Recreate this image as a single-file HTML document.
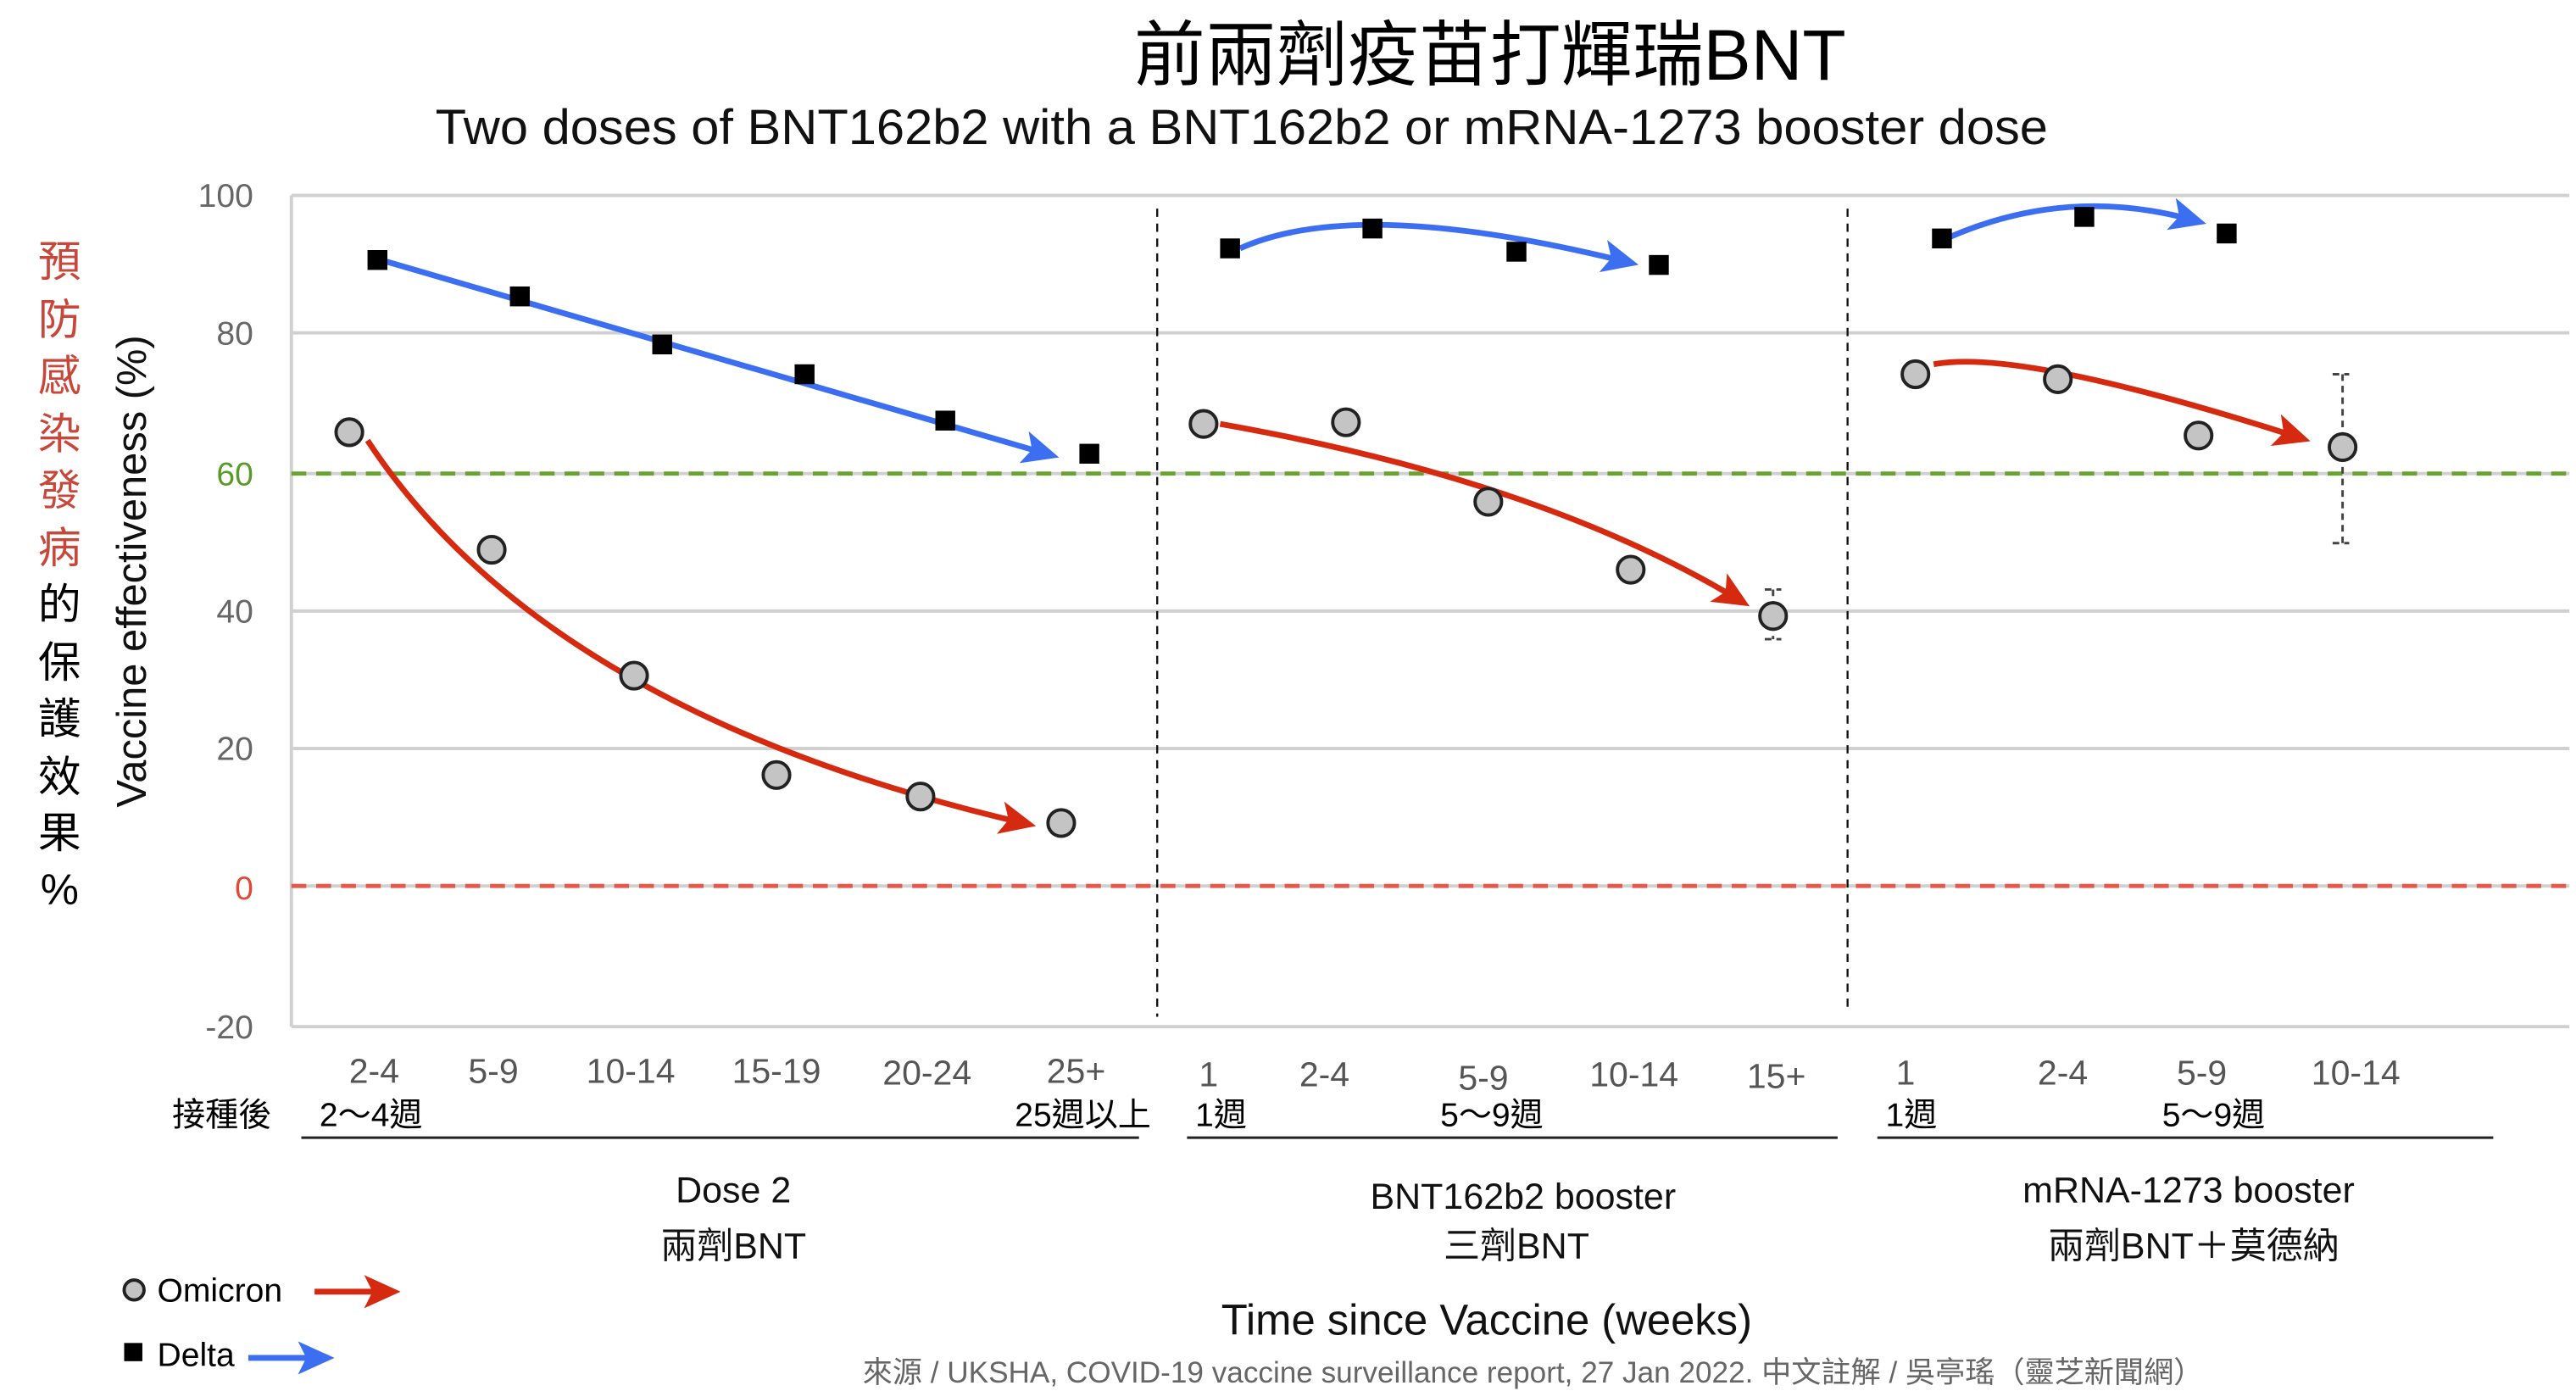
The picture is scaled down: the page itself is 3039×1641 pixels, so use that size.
<!DOCTYPE html>
<html><head><meta charset="utf-8"><style>
html,body{margin:0;padding:0;background:#fff}
svg{display:block}
text{font-family:"Liberation Sans","Noto Sans CJK TC",sans-serif}
</style></head><body>
<svg width="3039" height="1641" viewBox="0 0 1556 840" preserveAspectRatio="none" xmlns="http://www.w3.org/2000/svg">
<defs>
<marker id="ar" markerWidth="22" markerHeight="20" refX="14" refY="10" orient="auto" markerUnits="userSpaceOnUse" viewBox="0 0 22 20"><path d="M0,0 L22,10 L0,20 L5,10 z" fill="#d62a10"/></marker>
<marker id="ab" markerWidth="22" markerHeight="20" refX="14" refY="10" orient="auto" markerUnits="userSpaceOnUse" viewBox="0 0 22 20"><path d="M0,0 L22,10 L0,20 L5,10 z" fill="#3b6ef0"/></marker>
</defs>
<text x="900" y="48" font-size="43" text-anchor="middle" fill="#000">前兩劑疫苗打輝瑞BNT</text>
<text x="750" y="87" font-size="30" text-anchor="middle" fill="#111" textLength="974" lengthAdjust="spacingAndGlyphs">Two doses of BNT162b2 with a BNT162b2 or mRNA-1273 booster dose</text>
<g stroke="#d0d0d0" stroke-width="2">
<line x1="176" y1="118" x2="1552" y2="118"/><line x1="176" y1="201" x2="1552" y2="201"/>
<line x1="176" y1="286" x2="1552" y2="286"/><line x1="176" y1="369" x2="1552" y2="369"/>
<line x1="176" y1="452" x2="1552" y2="452"/><line x1="176" y1="535" x2="1552" y2="535"/>
<line x1="176" y1="620" x2="1552" y2="620"/><line x1="176" y1="118" x2="176" y2="620"/>
</g>
<line x1="176" y1="286" x2="1552" y2="286" stroke="#6aa232" stroke-width="2.5" stroke-dasharray="9,6"/>
<line x1="176" y1="535" x2="1552" y2="535" stroke="#e8584a" stroke-width="2.5" stroke-dasharray="9,6"/>
<line x1="699" y1="126" x2="699" y2="614" stroke="#111" stroke-width="1.2" stroke-dasharray="5,4"/>
<line x1="1116" y1="126" x2="1116" y2="612" stroke="#111" stroke-width="1.2" stroke-dasharray="5,4"/>
<g font-size="20" text-anchor="end" fill="#666">
<text x="153" y="125">100</text><text x="153" y="208">80</text>
<text x="153" y="293" fill="#5a9a2a">60</text><text x="153" y="376">40</text>
<text x="153" y="459">20</text><text x="153" y="543" fill="#e0483a">0</text>
<text x="153" y="627">-20</text></g>
<text transform="translate(88,345) rotate(-90)" font-size="25" text-anchor="middle" fill="#111">Vaccine effectiveness (%)</text>
<g font-size="26" text-anchor="middle">
<text x="36" y="167" fill="#c8463a">預</text><text x="36" y="202" fill="#c8463a">防</text>
<text x="36" y="236" fill="#c8463a">感</text><text x="36" y="271" fill="#c8463a">染</text>
<text x="36" y="305" fill="#c8463a">發</text><text x="36" y="340" fill="#c8463a">病</text>
<text x="36" y="374">的</text><text x="36" y="409">保</text><text x="36" y="443">護</text>
<text x="36" y="478">效</text><text x="36" y="512">果</text><text x="36" y="546">%</text></g>
<g stroke="#444" stroke-width="1.5" stroke-dasharray="4,3" fill="none">
<path d="M1071,356 V386 M1066,356 H1076 M1066,386 H1076"/>
<path d="M1415,226 V328 M1409,226 H1419 M1409,328 H1419"/></g>
<g fill="none" stroke-width="3.5">
<path d="M230,157 L632,274" stroke="#3b6ef0" marker-end="url(#ab)"/>
<path d="M222,266 Q330,430 618,497" stroke="#d62a10" marker-end="url(#ar)"/>
<path d="M749,150 Q820,118 982,158" stroke="#3b6ef0" marker-end="url(#ab)"/>
<path d="M737,256 Q930,290 1050,362" stroke="#d62a10" marker-end="url(#ar)"/>
<path d="M1178,143 Q1250,112 1325,133" stroke="#3b6ef0" marker-end="url(#ab)"/>
<path d="M1168,220 Q1220,210 1388,264" stroke="#d62a10" marker-end="url(#ar)"/>
</g>
<g fill="#000">
<rect x="222" y="151" width="12" height="12"/><rect x="308" y="173" width="12" height="12"/>
<rect x="394" y="202" width="12" height="12"/><rect x="480" y="220" width="12" height="12"/>
<rect x="565" y="248" width="12" height="12"/><rect x="652" y="268" width="12" height="12"/>
<rect x="737" y="144" width="12" height="12"/><rect x="823" y="132" width="12" height="12"/>
<rect x="910" y="146" width="12" height="12"/><rect x="996" y="154" width="12" height="12"/>
<rect x="1167" y="138" width="12" height="12"/><rect x="1253" y="125" width="12" height="12"/>
<rect x="1339" y="135" width="12" height="12"/></g>
<g fill="#c4c4c4" stroke="#222" stroke-width="2">
<circle cx="211" cy="261" r="8"/><circle cx="297" cy="332" r="8"/><circle cx="383" cy="408" r="8"/>
<circle cx="469" cy="468" r="8"/><circle cx="556" cy="481" r="8"/><circle cx="641" cy="497" r="8"/>
<circle cx="727" cy="256" r="8"/><circle cx="813" cy="255" r="8"/><circle cx="899" cy="303" r="8"/>
<circle cx="985" cy="344" r="8"/><circle cx="1071" cy="372" r="8"/>
<circle cx="1157" cy="226" r="8"/><circle cx="1243" cy="229" r="8"/><circle cx="1328" cy="263" r="8"/>
<circle cx="1415" cy="270" r="8"/></g>
<g font-size="21" fill="#555" text-anchor="middle">
<text x="226" y="654">2-4</text><text x="298" y="654">5-9</text><text x="381" y="654">10-14</text>
<text x="469" y="654">15-19</text><text x="560" y="655">20-24</text><text x="650" y="654">25+</text>
<text x="730" y="656">1</text><text x="800" y="656">2-4</text><text x="896" y="658">5-9</text>
<text x="987" y="656">10-14</text><text x="1073" y="657">15+</text>
<text x="1151" y="655">1</text><text x="1246" y="655">2-4</text><text x="1330" y="655">5-9</text><text x="1423" y="655">10-14</text></g>
<g font-size="20" fill="#000">
<text x="104" y="680">接種後</text><text x="193" y="680">2～4週</text><text x="613" y="680">25週以上</text>
<text x="722" y="680">1週</text><text x="870" y="680">5～9週</text>
<text x="1139" y="680">1週</text><text x="1306" y="680">5～9週</text></g>
<g stroke="#222" stroke-width="1.5"><line x1="182" y1="687" x2="688" y2="687"/><line x1="717" y1="687" x2="1110" y2="687"/><line x1="1134" y1="687" x2="1506" y2="687"/></g>
<g font-size="22" text-anchor="middle" fill="#111">
<text x="443" y="726">Dose 2</text><text x="443" y="760">兩劑BNT</text>
<text x="920" y="730">BNT162b2 booster</text><text x="916" y="760">三劑BNT</text>
<text x="1322" y="726">mRNA-1273 booster</text><text x="1325" y="760">兩劑BNT＋莫德納</text></g>
<circle cx="81" cy="779" r="6" fill="#c4c4c4" stroke="#222" stroke-width="2"/>
<text x="95" y="786" font-size="20">Omicron</text>
<path d="M190,780 L234,780" stroke="#d62a10" stroke-width="3.5" marker-end="url(#ar)"/>
<rect x="75" y="811" width="11" height="11"/>
<text x="95" y="825" font-size="20">Delta</text>
<path d="M150,820 L194,820" stroke="#3b6ef0" stroke-width="3.5" marker-end="url(#ab)"/>
<text x="898" y="806" font-size="26" text-anchor="middle" fill="#111">Time since Vaccine (weeks)</text>
<text x="926" y="835" font-size="18" text-anchor="middle" fill="#666">來源 / UKSHA, COVID-19 vaccine surveillance report, 27 Jan 2022.  中文註解 / 吳亭瑤（靈芝新聞網）</text>
</svg>
</body></html>
